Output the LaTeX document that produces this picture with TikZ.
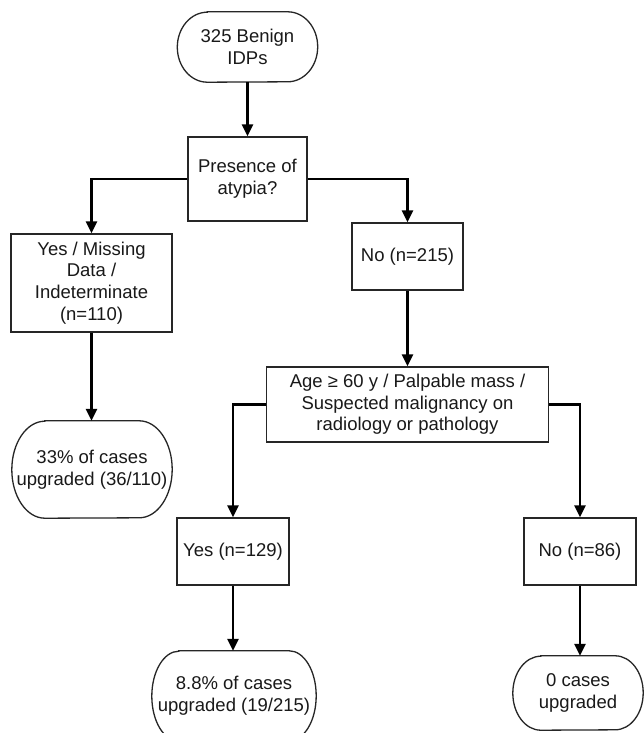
\documentclass[tikz,border=0pt]{standalone}
\usepackage{fontspec}
\setmainfont{Liberation Sans}
\usetikzlibrary{arrows.meta}
\newcommand\termoutline[3]{%
  \draw[boxline] ([xshift=#2pt]#1.north west) -- ([xshift=-#2pt]#1.north east)
    arc[start angle=90,end angle=-90,x radius=#2pt,y radius=#3pt]
    -- ([xshift=#2pt]#1.south west)
    arc[start angle=270,end angle=90,x radius=#2pt,y radius=#3pt] -- cycle;}
\begin{document}
\begin{tikzpicture}[x=1pt,y=-1pt,
  every node/.style={font=\fontsize{18.5}{21.7}\selectfont, align=center, inner sep=0pt, text=black!90},
  boxline/.style={draw=black!85, line width=1.3pt},
  rectbox/.style={boxline, rectangle},
  termbox/.style={rectangle},
  arr/.style={draw=black, line width=2.5pt, -{Triangle[length=12pt,width=11pt]}}]
\useasboundingbox (0,0) rectangle (644,733);
\fill[white] (0,0) rectangle (644,733);
% nodes
\node[termbox, minimum width=140pt, minimum height=70pt] (start) at (247.5,47) {325 Benign\\IDPs};
\termoutline{start}{30}{35}
\node[rectbox, minimum width=119pt, minimum height=84pt] (presence) at (247.5,179) {Presence of\\atypia?};
\node[rectbox, minimum width=161pt, minimum height=98pt] (yes) at (91.5,283) {Yes / Missing\\Data /\\Indeterminate\\(n=110)};
\node[rectbox, minimum width=111pt, minimum height=67pt] (no) at (407.5,256.5) {No (n=215)};
\node[rectbox, minimum width=282pt, minimum height=75pt] (age) at (407.5,404.5) {Age ≥ 60 y / Palpable mass /\\Suspected malignancy on\\radiology or pathology};
\node[termbox, minimum width=160pt, minimum height=97pt] (p33) at (92,469.5) {33\% of cases\\upgraded (36/110)};
\termoutline{p33}{33}{48.5}
\node[rectbox, minimum width=112pt, minimum height=67pt] (yes129) at (233,551.5) {Yes (n=129)};
\node[rectbox, minimum width=112pt, minimum height=67pt] (no86) at (580,551.5) {No (n=86)};
\node[termbox, minimum width=164pt, minimum height=90pt] (p88) at (234,696) {8.8\% of cases\\upgraded (19/215)};
\termoutline{p88}{27}{45}
\node[termbox, minimum width=130pt, minimum height=74pt] (p0) at (578,693) {0 cases\\upgraded};
\termoutline{p0}{28}{37}
% connectors
\draw[arr] (start.south) -- (presence.north);
\draw[arr] (presence.west) -| (yes.north);
\draw[arr] (presence.east) -| (no.north);
\draw[arr] (no.south) -- (age.north);
\draw[arr] (yes.south) -- (yes.south |- p33.north);
\draw[arr] (age.west) -| (yes129.north);
\draw[arr] (age.east) -| (no86.north);
\draw[arr] (yes129.south) -- (yes129.south |- p88.north);
\draw[arr] (no86.south) -- (no86.south |- p0.north);
\end{tikzpicture}
\end{document}
